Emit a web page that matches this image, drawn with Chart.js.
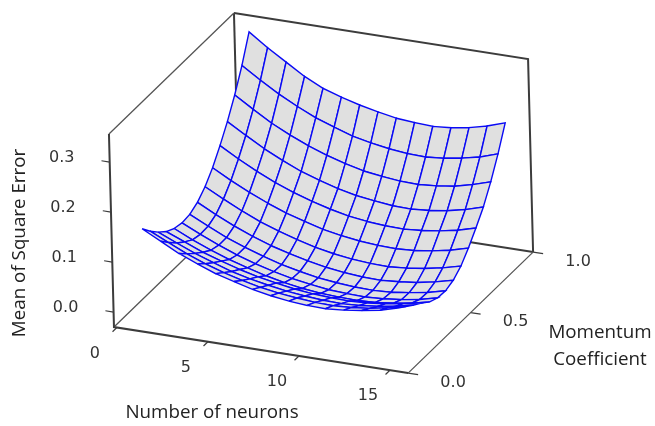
<!DOCTYPE html>
<html><head><meta charset="utf-8">
<style>html,body{margin:0;padding:0;background:#fff}canvas{display:block}</style>
<script src="https://cdn.jsdelivr.net/npm/chart.js@4"></script>
</head><body><canvas id="c" width="655" height="426"></canvas>
<script>
const neurons=[1,2,3,4,5,6,7,8,9,10,11,12,13,14,15];
const momentum=[0.075,0.1375,0.2,0.2625,0.325,0.3875,0.45,0.5125,0.575,0.6375,0.7,0.7625,0.825,0.8875,0.95];
// mse[momentum index][neuron index]
const mse=[
[.155,.136,.117,.102,.088,.078,.068,.061,.056,.053,.052,.055,.060,.066,.076],
[.135,.118,.101,.087,.075,.065,.057,.051,.047,.044,.043,.045,.049,.056,.064],
[.118,.102,.087,.074,.062,.053,.046,.040,.036,.033,.032,.034,.038,.044,.052],
[.104,.089,.074,.062,.051,.042,.035,.029,.025,.023,.022,.024,.028,.034,.041],
[.095,.078,.063,.050,.039,.029,.021,.015,.011,.009,.008,.010,.014,.020,.028],
[.091,.074,.058,.044,.032,.022,.014,.008,.003,.001,.000,.002,.006,.012,.021],
[.093,.075,.058,.044,.032,.021,.013,.006,.002,-.001,-.002,.000,.005,.011,.020],
[.102,.083,.066,.051,.038,.028,.019,.012,.007,.004,.003,.006,.010,.017,.026],
[.118,.099,.081,.065,.052,.041,.031,.024,.019,.016,.015,.018,.023,.030,.039],
[.141,.121,.103,.087,.073,.062,.052,.045,.040,.037,.036,.038,.043,.050,.060],
[.170,.149,.130,.113,.099,.087,.077,.069,.064,.061,.060,.063,.068,.075,.085],
[.203,.181,.160,.142,.126,.114,.103,.095,.090,.086,.085,.088,.093,.101,.112],
[.241,.218,.196,.178,.162,.149,.138,.129,.124,.120,.119,.122,.127,.136,.147],
[.285,.261,.239,.220,.203,.190,.178,.170,.164,.160,.159,.162,.168,.176,.188],
[.337,.311,.288,.265,.247,.235,.225,.217,.210,.207,.205,.208,.214,.223,.235]
];
const nRange=[-0.16,16];
const mRange=[0,1];
const zRange=[-0.03,0.356];
const nTicks=[0,5,10,15];
const mTicks=[0,0.5,1];
const zTicks=[0,0.1,0.2,0.3];
const nTitle="Number of neurons";
const mTitle=["Momentum","Coefficient"];
const zTitle="Mean of Square Error";

function P(n,m,z){return {x:116.5+18.2*n+125*m-13*z,y:312.5+2.85*n-121*m-500*z};}
const SURF='#0a0af5',FILL='#e0e0e0';
function line(pts,color,w){return {data:pts,showLine:true,fill:false,borderColor:color,borderWidth:w,pointRadius:0,tension:0};}
const ds=[];
// front-most first: Chart.js paints the first dataset last
for(let i=0;i<momentum.length-1;i++){
  for(let j=neurons.length-2;j>=0;j--){
    const pts=[P(neurons[j],momentum[i],mse[i][j]),P(neurons[j+1],momentum[i],mse[i][j+1]),
      P(neurons[j+1],momentum[i+1],mse[i+1][j+1]),P(neurons[j],momentum[i+1],mse[i+1][j]),P(neurons[j],momentum[i],mse[i][j])];
    ds.push({data:pts,showLine:true,fill:'shape',backgroundColor:FILL,borderColor:SURF,borderWidth:1.4,pointRadius:0,tension:0});
  }
}
const [n0,n1]=nRange,[m0,m1]=mRange,[z0,z1]=zRange;
const BOX='#3c3c3c',THIN='#555';
ds.push(line([P(n0,m0,z1),P(n0,m0,z0),P(n1,m0,z0)],BOX,2));
ds.push(line([P(n1,m0,z0),P(n1,m1,z0)],THIN,1.3));
ds.push(line([P(n0,m0,z1),P(n0,m1,z1)],THIN,1.3));
ds.push(line([P(n0,m1,z1),P(n1,m1,z1),P(n1,m1,z0)],BOX,2));
ds.push(line([P(n0,m0,z0),P(n0,m1,z0)],THIN,1.3));
ds.push(line([P(n0,m1,z0),P(n1,m1,z0)],BOX,2));
ds.push(line([P(n0,m1,z0),P(n0,m1,z1)],BOX,2));
nTicks.forEach(t=>ds.push(line([P(t,m0,z0),P(t,m0-0.035,z0)],BOX,1.2)));
mTicks.forEach(t=>ds.push(line([P(n1,t,z0),P(n1+0.55,t,z0)],BOX,1.2)));
zTicks.forEach(t=>ds.push(line([P(n0,m0,t),P(n0-0.45,m0,t)],BOX,1.2)));

const labels={id:'labels',afterDraw(ch){
  const c=ch.ctx,X=ch.scales.x,Y=ch.scales.y;
  const put=(p,dx,dy)=>[X.getPixelForValue(p.x)+dx,Y.getPixelForValue(p.y)+dy];
  c.save();c.textAlign='center';c.textBaseline='middle';
  c.font='16px "DejaVu Sans"';c.fillStyle='#333';
  nTicks.forEach(t=>{const q=put(P(t,m0,z0),-22,26);c.fillText(String(t),q[0],q[1]);});
  mTicks.forEach(t=>{const q=put(P(n1,t,z0),45,9.5);c.fillText(t.toFixed(1),q[0],q[1]);});
  zTicks.forEach(t=>{const q=put(P(n0,m0,t),-48,-4.5);c.fillText(t.toFixed(1),q[0],q[1]);});
  c.font='18.8px "Open Sans"';c.fillStyle='#222';
  c.fillText(nTitle,212,413);
  c.fillText(mTitle[0],600,333);c.fillText(mTitle[1],600,360);
  c.translate(20,243);c.rotate(-Math.PI/2);c.fillText(zTitle,0,0);
  c.restore();
}};
new Chart(document.getElementById('c'),{type:'scatter',data:{datasets:ds},plugins:[labels],options:{
  responsive:false,animation:false,events:[],
  layout:{padding:0},
  plugins:{legend:{display:false},tooltip:{enabled:false}},
  scales:{x:{type:'linear',display:false,min:0,max:655},y:{type:'linear',display:false,min:0,max:426,reverse:true}}
}});
</script></body></html>
